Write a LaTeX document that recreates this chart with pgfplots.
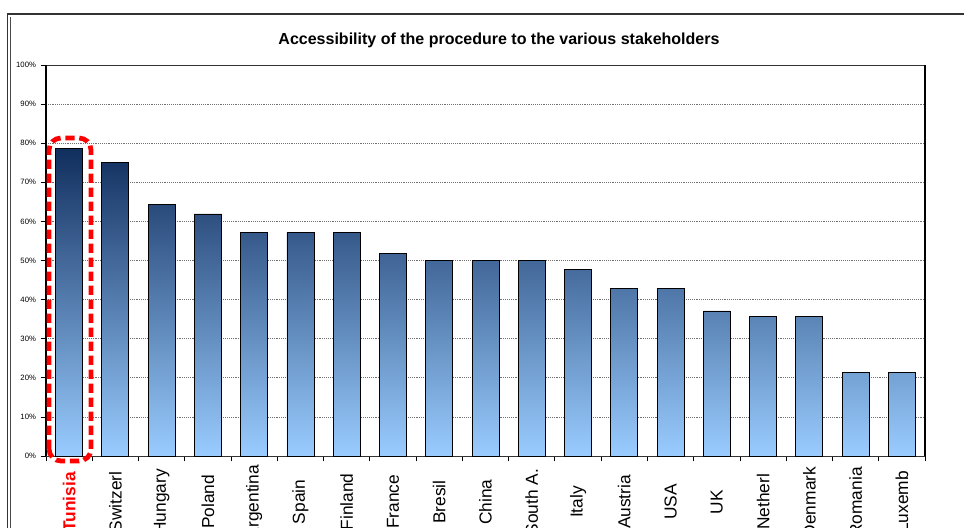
\documentclass[border=0pt]{standalone}
\usepackage{pgfplots}
\pgfplotsset{compat=1.18}
\usepackage{fontspec}
\setmainfont{Liberation Sans}
\definecolor{bartop}{HTML}{102E5E}
\definecolor{barbot}{HTML}{9ACCFF}

\begin{document}
\begin{tikzpicture}[x=0.75pt,y=0.75pt]
\useasboundingbox (0,0) rectangle (964,528);
\clip (0,0) rectangle (964,528);
% outer frame
\draw[black!80, line width=1.1pt] (7.3,0) -- (7.3,514) -- (964,514);
\draw[black!70, line width=0.6pt] (10.3,0) -- (10.3,511);
\node[font=\bfseries\fontsize{12}{14}\selectfont] at (499,488) {Accessibility of the procedure to the various stakeholders};
\begin{axis}[
    at={(34.5pt,54pt)}, anchor=south west,
    scale only axis,
    width=659.25pt, height=293.25pt,
    xmin=-0.5, xmax=18.5,
    ymin=0, ymax=100,
    ytick={0,10,...,100},
    yticklabel={\pgfmathprintnumber{\tick}\%},
    yticklabel style={font=\fontsize{5.8}{6}\selectfont, /pgf/number format/assume math mode=true},
    ymajorgrids=true,
    grid style={densely dotted, black!55, line width=0.5pt},
    xtick={0,...,18},
    minor xtick={-0.5,0.5,...,18.5},
    xticklabels={\textcolor{red}{\bfseries Tunisia},Switzerl,Hungary,Poland,Argentina,Spain,Finland,France,Bresil,China,South A.,Italy,Austria,USA,UK,Netherl,Denmark,Romania,Luxemb},
    xticklabel style={font=\fontsize{13}{14}\selectfont, yshift=-30.5pt, rotate=90, anchor=center},
    major x tick style={draw=none},
    minor x tick style={black, line width=0.6pt},
    tick align=outside,
    xtick pos=bottom, ytick pos=left,
    major tick length=4pt, minor tick length=4pt,
    y tick style={black, line width=0.5pt},
    axis line style={black!80, line width=0.7pt},
    separate axis lines,
    y axis line style={black, line width=1pt},
    clip=false,
]
\addplot[ybar, bar width=20.25pt, draw=black, line width=0.6pt, top color=bartop, bottom color=barbot]
coordinates {
(0,78.6)(1,75.0)(2,64.3)(3,61.9)(4,57.1)(5,57.1)(6,57.1)(7,51.7)(8,50.0)(9,50.0)
(10,50.0)(11,47.6)(12,42.9)(13,42.9)(14,37.1)(15,35.7)(16,35.7)(17,21.4)(18,21.4)
};
\end{axis}
% highlight around Tunisia
\draw[red, line width=3.6pt, dash pattern=on 7pt off 3.5pt, rounded corners=9pt] (49,67) rectangle (91,390);
\end{tikzpicture}
\end{document}
